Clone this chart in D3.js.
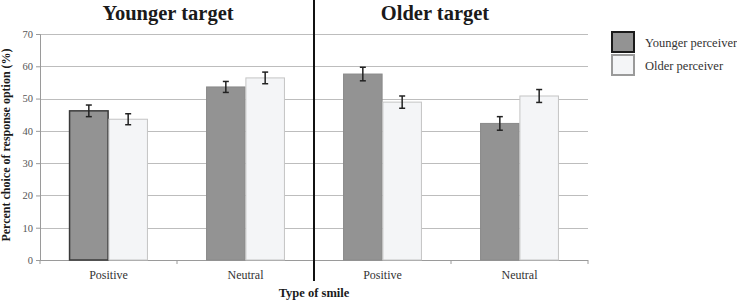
<!DOCTYPE html>
<html>
<head>
<meta charset="utf-8">
<script src="https://cdn.jsdelivr.net/npm/d3@7"></script>
<style>
  body { margin: 0; background: #fff; }
  text { font-family: "Liberation Serif", "Times New Roman", serif; }
</style>
</head>
<body>
<div id="chart"></div>
<script>
// data
var categories = ["YT-Positive", "YT-Neutral", "OT-Positive", "OT-Neutral"];
var categoryLabels = ["Positive", "Neutral", "Positive", "Neutral"];
var groups = ["Younger perceiver", "Older perceiver"];
var youngerValues = [46.2, 53.6, 57.6, 42.3];
var youngerErrors = [1.8, 1.7, 2.1, 2.1];
var olderValues = [43.6, 56.4, 48.9, 50.8];
var olderErrors = [1.7, 1.8, 1.9, 2.0];
var panelTitles = ["Younger target", "Older target"];
var yTicks = [0, 10, 20, 30, 40, 50, 60, 70];

var W = 737, H = 301;
var plotLeft = 40, plotRight = 588, plotTop = 34, plotBottom = 260;

var svg = d3.select("#chart").append("svg")
  .attr("width", W).attr("height", H);

var y = d3.scaleLinear().domain([0, 70]).range([plotBottom, plotTop]);
var x0 = d3.scaleBand().domain(categories).range([plotLeft, plotRight])
  .paddingInner(0.42).paddingOuter(0.21);
var x1 = d3.scaleBand().domain(groups).range([0, x0.bandwidth()]).padding(0.02);

var color = d3.scaleOrdinal().domain(groups).range(["#939393", "#f4f5f7"]);
var stroke = d3.scaleOrdinal().domain(groups).range(["#8a8a8a", "#c4c4c4"]);

// gridlines
svg.append("g").selectAll("line").data(yTicks.slice(1)).enter().append("line")
  .attr("x1", plotLeft).attr("x2", plotRight)
  .attr("y1", d => Math.round(y(d)) + 0.5).attr("y2", d => Math.round(y(d)) + 0.5)
  .attr("stroke", "#bdbdbd").attr("stroke-width", 1);

// y axis
var yAxis = svg.append("g").attr("transform", "translate(" + plotLeft + ",0)")
  .call(d3.axisLeft(y).tickValues(yTicks).tickSize(4).tickPadding(3));
yAxis.select(".domain").attr("stroke", "#9a9a9a");
yAxis.selectAll(".tick line").attr("stroke", "#9a9a9a");
yAxis.selectAll("text").attr("font-size", 10.5).attr("fill", "#555")
  .style("font-family", "Liberation Serif, serif");

// x axis (ticks at category boundaries)
var step = x0.step();
var boundaries = d3.range(categories.length + 1).map(i => plotLeft + i * step);
svg.append("line").attr("x1", plotLeft).attr("x2", plotRight)
  .attr("y1", plotBottom + 0.5).attr("y2", plotBottom + 0.5)
  .attr("stroke", "#9a9a9a");
svg.append("g").selectAll("line").data(boundaries).enter().append("line")
  .attr("x1", d => d).attr("x2", d => d)
  .attr("y1", plotBottom).attr("y2", plotBottom + 4)
  .attr("stroke", "#9a9a9a");
svg.append("g").selectAll("text").data(categories).enter().append("text")
  .attr("x", d => x0(d) + x0.bandwidth() / 2)
  .attr("y", 279)
  .attr("text-anchor", "middle")
  .attr("font-size", 12).attr("fill", "#333")
  .text((d, i) => categoryLabels[i]);

// bars
var rows = categories.map(function(c, i) {
  return [
    {cat: c, group: groups[0], value: youngerValues[i], err: youngerErrors[i], i: i},
    {cat: c, group: groups[1], value: olderValues[i], err: olderErrors[i], i: i}
  ];
});

var g = svg.append("g").selectAll("g").data(rows).enter().append("g")
  .attr("transform", d => "translate(" + x0(d[0].cat) + ",0)");

g.selectAll("rect").data(d => d).enter().append("rect")
  .attr("x", d => x1(d.group))
  .attr("y", d => y(d.value))
  .attr("width", x1.bandwidth())
  .attr("height", d => y(0) - y(d.value))
  .attr("fill", d => color(d.group))
  .attr("stroke", d => (d.i === 0 && d.group === groups[0]) ? "#3a3a3a" : stroke(d.group))
  .attr("stroke-width", d => (d.i === 0 && d.group === groups[0]) ? 1.5 : 1);

// error bars
var eb = g.selectAll("g.err").data(d => d).enter().append("g").attr("class", "err");
eb.append("line")
  .attr("x1", d => x1(d.group) + x1.bandwidth() / 2)
  .attr("x2", d => x1(d.group) + x1.bandwidth() / 2)
  .attr("y1", d => y(d.value + d.err)).attr("y2", d => y(d.value - d.err))
  .attr("stroke", "#222").attr("stroke-width", 1.5);
eb.selectAll("line.cap").data(d => [d.value + d.err, d.value - d.err].map(v => ({v: v, d: d})))
  .enter().append("line").attr("class", "cap")
  .attr("x1", o => x1(o.d.group) + x1.bandwidth() / 2 - 3)
  .attr("x2", o => x1(o.d.group) + x1.bandwidth() / 2 + 3)
  .attr("y1", o => y(o.v)).attr("y2", o => y(o.v))
  .attr("stroke", "#222").attr("stroke-width", 1.5);

// divider between panels
var mid = plotLeft + 2 * step;
svg.append("line").attr("x1", mid).attr("x2", mid)
  .attr("y1", 0).attr("y2", 281)
  .attr("stroke", "#111").attr("stroke-width", 2);

// panel titles
svg.append("g").selectAll("text").data(panelTitles).enter().append("text")
  .attr("x", (d, i) => i === 0 ? 168 : 435)
  .attr("y", 20)
  .attr("text-anchor", "middle")
  .attr("font-size", 20.5).attr("font-weight", "bold").attr("fill", "#1a1a1a")
  .text(d => d);

// axis titles
svg.append("text")
  .attr("transform", "translate(10,145) rotate(-90)")
  .attr("text-anchor", "middle")
  .attr("font-size", 12).attr("font-weight", "bold").attr("fill", "#1a1a1a")
  .text("Percent choice of response option (%)");
svg.append("text")
  .attr("x", mid).attr("y", 297)
  .attr("text-anchor", "middle")
  .attr("font-size", 12.5).attr("font-weight", "bold").attr("fill", "#1a1a1a")
  .text("Type of smile");

// legend
var legend = svg.append("g").selectAll("g").data(groups).enter().append("g")
  .attr("transform", (d, i) => "translate(612," + (32 + i * 23) + ")");
legend.append("rect")
  .attr("width", 22).attr("height", 20)
  .attr("fill", d => color(d))
  .attr("stroke", (d, i) => i === 0 ? "#1a1a1a" : "#9a9a9a")
  .attr("stroke-width", 2);
legend.append("text")
  .attr("x", 33).attr("y", 14.5)
  .attr("font-size", 12.5).attr("fill", "#333")
  .text(d => d);
</script>
</body>
</html>
